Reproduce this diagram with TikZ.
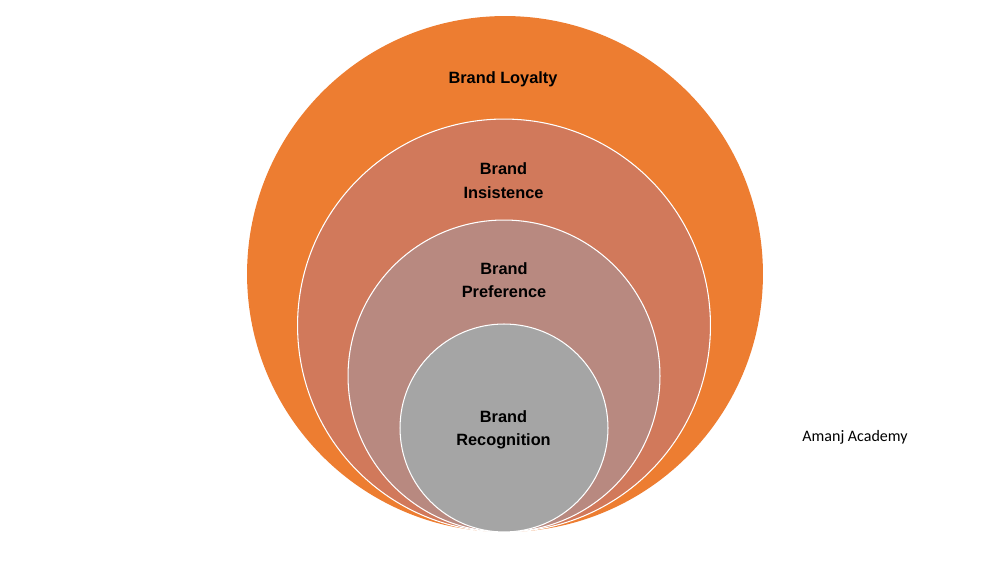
\documentclass[tikz,border=0pt]{standalone}
\usepackage{fontspec}
\setmainfont{Liberation Sans}
\newfontfamily\calfont{Carlito}
\definecolor{loyal}{RGB}{237,125,49}
\definecolor{insist}{RGB}{209,121,91}
\definecolor{prefer}{RGB}{184,137,128}
\definecolor{recog}{RGB}{165,165,165}
\tikzset{ring/.style={draw=white, line width=0.6pt},
  lbl/.style={font=\fontsize{9.3}{13.3}\selectfont\bfseries, align=center}}
\begin{document}
\begin{tikzpicture}[x=0.02cm, y=-0.02cm]
    \useasboundingbox (0, 0) rectangle (1000, 563);

    \fill[loyal] (505, 274) circle (5.16cm);
    \filldraw[ring, fill=insist] (504, 325.5) circle (4.13cm);
    \filldraw[ring, fill=prefer] (504, 376) circle (3.12cm);
    \filldraw[ring, fill=recog] (504, 428) circle (2.08cm);

    \node[lbl] (loyalty) at (503, 79){Brand Loyalty};
    \node[lbl] (insistence) at (503.5, 180.5){Brand\\Insistence};
    \node[lbl] (preference) at (504, 280){Brand\\Preference};
    \node[lbl] (recognition) at (503.5, 430){Brand\\Recognition};

    \node[font=\calfont\fontsize{9.1}{11}\selectfont] (academy) at (855, 437){Amanj Academy};

\end{tikzpicture}
\end{document}
